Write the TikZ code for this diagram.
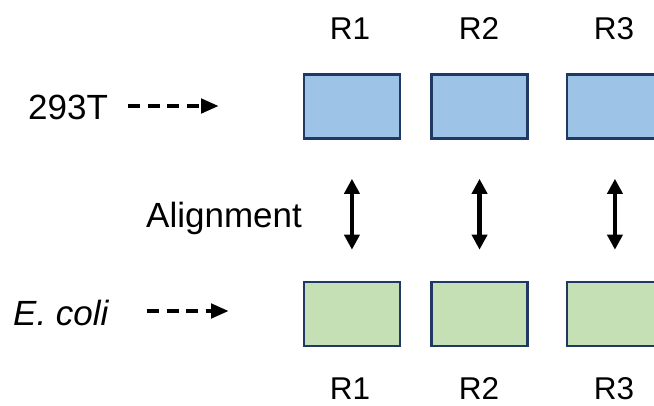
\documentclass[tikz,border=0pt]{standalone}
\usepackage{fontspec}
\setmainfont{Liberation Sans}
\usetikzlibrary{arrows.meta}
\definecolor{boxedge}{HTML}{1F3864}
\definecolor{bluefill}{HTML}{9DC3E6}
\definecolor{greenfill}{HTML}{C5E0B4}
\tikzset{
  region/.style={draw=boxedge, line width=2.5pt, minimum width=96pt, minimum height=64pt, inner sep=0pt, anchor=north west},
  hek/.style={region, fill=bluefill},
  ecoli/.style={region, fill=greenfill},
  rlabel/.style={font=\fontsize{31.5}{36}\selectfont, anchor=base, inner sep=0pt, text depth=0pt},
  biglabel/.style={font=\fontsize{35}{40}\selectfont, anchor=base west, inner sep=0pt},
  feed/.style={line width=4.5pt, dash pattern=on 12pt off 7.5pt, -{Triangle[width=14pt,length=18pt]}},
  align/.style={line width=4.5pt, {Triangle[width=15pt,length=15pt]}-{Triangle[width=15pt,length=15pt]}}
}
\begin{document}
\begin{tikzpicture}[x=1pt,y=-1pt]
\useasboundingbox (0,0) rectangle (654,405);
\clip (0,0) rectangle (654,405);
% top row (293T)
\node[hek] (b1) at (302.7,73.3) {};
\node[hek] (b2) at (430.3,73.3) {};
\node[hek] (b3) at (565.7,73.3) {};
% bottom row (E. coli)
\node[ecoli] (g1) at (302.7,280.7) {};
\node[ecoli] (g2) at (430.3,280.7) {};
\node[ecoli] (g3) at (565.7,280.7) {};
% region labels
\node[rlabel] (t1) at (350,39.3) {R1};
\node[rlabel] (t2) at (479,39.3) {R2};
\node[rlabel] (t3) at (614,39.3) {R3};
\node[rlabel] (u1) at (350,399.5) {R1};
\node[rlabel] (u2) at (479,399.5) {R2};
\node[rlabel] (u3) at (614,399.5) {R3};
% row labels
\node[biglabel] (hlab) at (28,119.5) {293T};
\node[biglabel] (elab) at (13,325) {\itshape E. coli};
\node[biglabel] (alab) at (146,227) {Alignment};
% feeding arrows
\coordinate (hs) at (128,106);
\coordinate (he) at (219,106);
\coordinate (es) at (147,311);
\coordinate (ee) at (229,311);
\draw[feed] (hs) -- (he);
\draw[feed] (es) -- (ee);
% alignment arrows between rows
\draw[align] ([yshift=-39pt]b1.south) -- ([yshift=31pt]g1.north);
\draw[align] ([yshift=-39pt]b2.south) -- ([yshift=31pt]g2.north);
\draw[align] ([yshift=-39pt]b3.south) -- ([yshift=31pt]g3.north);
\end{tikzpicture}
\end{document}
